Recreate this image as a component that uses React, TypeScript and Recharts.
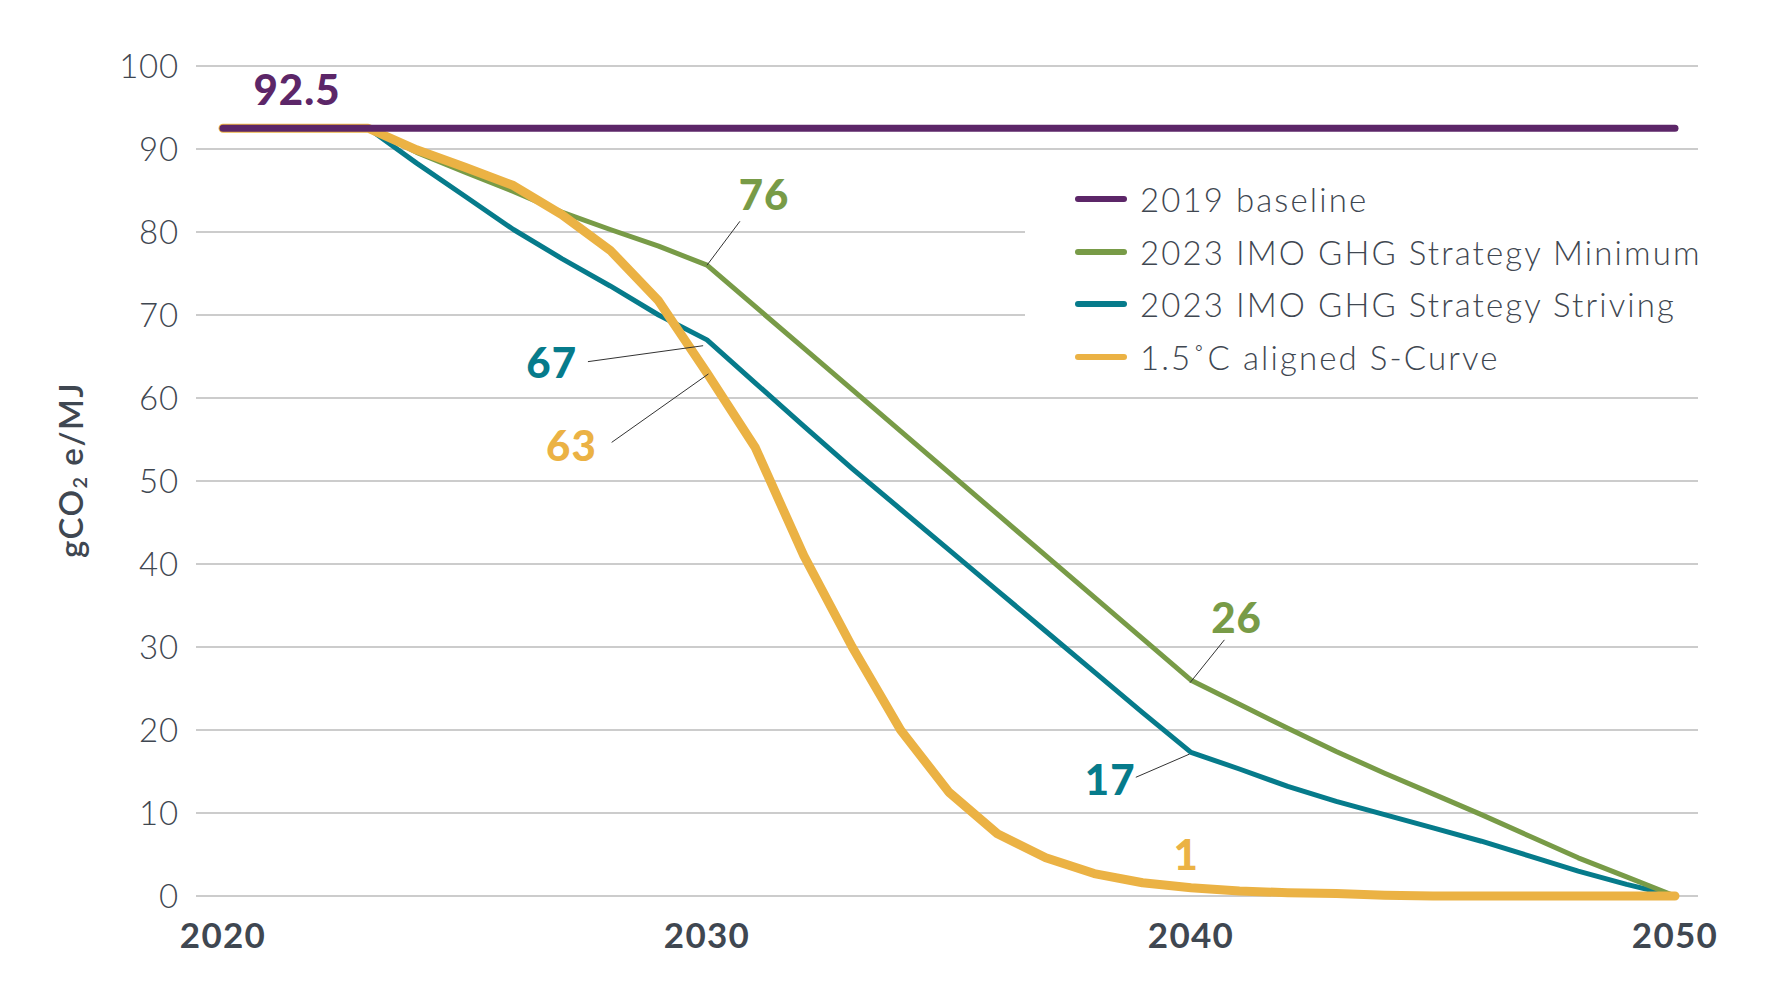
import { CartesianGrid, Legend, Line, LineChart, ReferenceDot, ReferenceLine, XAxis, YAxis } from "recharts";

const years = [
  2020, 2021, 2022, 2023, 2024, 2025, 2026, 2027, 2028, 2029, 2030, 2031, 2032, 2033, 2034, 2035,
  2036, 2037, 2038, 2039, 2040, 2041, 2042, 2043, 2044, 2045, 2046, 2047, 2048, 2049, 2050,
];
const baseline = [
  92.5, 92.5, 92.5, 92.5, 92.5, 92.5, 92.5, 92.5, 92.5, 92.5, 92.5, 92.5, 92.5, 92.5, 92.5, 92.5,
  92.5, 92.5, 92.5, 92.5, 92.5, 92.5, 92.5, 92.5, 92.5, 92.5, 92.5, 92.5, 92.5, 92.5, 92.5,
];
const imoMinimum = [
  92.5, 92.5, 92.5, 92.5, 89.6, 87.2, 84.9, 82.4, 80.3, 78.3, 76, 71, 66, 61, 56, 51,
  46, 41, 36, 31, 26, 23.1, 20.2, 17.4, 14.8, 12.3, 9.8, 7.2, 4.6, 2.3, 0,
];
const imoStriving = [
  92.5, 92.5, 92.5, 92.5, 88.3, 84.3, 80.3, 76.8, 73.5, 70, 67, 61.8, 56.6, 51.5, 46.6, 41.7,
  36.8, 31.9, 27, 22.1, 17.3, 15.3, 13.2, 11.4, 9.8, 8.2, 6.6, 4.8, 3, 1.4, 0,
];
const sCurve = [
  92.5, 92.5, 92.5, 92.5, 89.9, 87.8, 85.6, 82.1, 77.8, 71.7, 63, 54, 41, 30, 20, 12.5,
  7.5, 4.6, 2.7, 1.6, 1, 0.6, 0.4, 0.3, 0.1, 0, 0, 0, 0, 0, 0,
];
const xTicks = [2020, 2030, 2040, 2050];
const yTicks = [0, 10, 20, 30, 40, 50, 60, 70, 80, 90, 100];

const data = years.map((year, i) => ({
  year,
  baseline: baseline[i],
  minimum: imoMinimum[i],
  striving: imoStriving[i],
  sCurve: sCurve[i],
}));

const FONT = "Lato, sans-serif";
const TEXT = "#3f4751";

const series = [
  { key: "baseline", name: "2019 baseline", color: "#5c2668", width: 7 },
  { key: "minimum", name: "2023 IMO GHG Strategy Minimum", color: "#789b47", width: 5 },
  { key: "striving", name: "2023 IMO GHG Strategy Striving", color: "#067b8b", width: 5 },
  { key: "sCurve", name: "1.5˚C aligned S-Curve", color: "#ebb244", width: 9 },
];
const drawOrder = ["striving", "minimum", "sCurve", "baseline"];

const callouts = [
  { text: "92.5", x: 2021.53, y: 97.1, color: "#5c2668" },
  { text: "76", x: 2031.18, y: 84.5, color: "#789b47" },
  { text: "67", x: 2026.79, y: 64.2, color: "#067b8b" },
  { text: "63", x: 2027.2, y: 54.2, color: "#ebb244" },
  { text: "26", x: 2040.94, y: 33.5, color: "#789b47" },
  { text: "17", x: 2038.33, y: 14.0, color: "#067b8b" },
  { text: "1", x: 2039.9, y: 4.9, color: "#ebb244" },
];
const leaders = [
  [{ x: 2030.68, y: 81.29 }, { x: 2030, y: 76 }],
  [{ x: 2027.54, y: 64.38 }, { x: 2029.92, y: 66.3 }],
  [{ x: 2028.03, y: 54.65 }, { x: 2030.03, y: 62.9 }],
  [{ x: 2040.69, y: 30.86 }, { x: 2039.98, y: 25.7 }],
  [{ x: 2038.86, y: 14.3 }, { x: 2039.97, y: 17.1 }],
];

function LegendBox() {
  return (
    <div style={{ background: "#fff", width: 700, height: 210, fontFamily: FONT }}>
      {series.map((s) => (
        <div key={s.key} style={{ display: "flex", alignItems: "center", height: 52.5 }}>
          <div style={{ width: 52, height: 6, borderRadius: 3, background: s.color, marginLeft: 50, marginRight: 13 }} />
          <span style={{ fontSize: 33, fontWeight: 300, color: TEXT, letterSpacing: 2.1 }}>{s.name}</span>
        </div>
      ))}
    </div>
  );
}

function YLabel() {
  const cx = 70;
  const cy = 470;
  return (
    <text
      x={cx}
      y={cy}
      transform={`rotate(-90 ${cx} ${cy})`}
      textAnchor="middle"
      dominantBaseline="central"
      fill={TEXT}
      fontFamily={FONT}
      fontSize={33}
      fontWeight={600}
      letterSpacing={1.5}
    >
      gCO
      <tspan fontSize={20} dy={9}>2</tspan>
      <tspan dy={-9}> e/MJ</tspan>
    </text>
  );
}

export default function App() {
  return (
    <div style={{ width: 1775, height: 1005, background: "#fff" }}>
      <style>{"body{margin:0}"}</style>
      <LineChart width={1775} height={1005} data={data} margin={{ top: 66, right: 77, bottom: 0, left: 0 }}>
        <CartesianGrid horizontal vertical={false} stroke="#cccccc" strokeWidth={2} />
        <XAxis
          dataKey="year"
          type="number"
          domain={[2020, 2050]}
          ticks={xTicks}
          padding={{ left: 27, right: 23 }}
          axisLine={false}
          tickLine={false}
          tickMargin={21}
          height={109}
          tick={{ fill: TEXT, fontSize: 35, fontWeight: 700, fontFamily: FONT, letterSpacing: 1.3 }}
        />
        <YAxis
          domain={[0, 100]}
          ticks={yTicks}
          axisLine={false}
          tickLine={false}
          tickMargin={11}
          width={196}
          tick={{ fill: TEXT, fontSize: 33, fontWeight: 300, fontFamily: FONT, letterSpacing: 0.8 }}
          label={<YLabel />}
        />
        <Legend
          layout="vertical"
          align="center"
          verticalAlign="middle"
          content={<LegendBox />}
          wrapperStyle={{ top: 173, left: 1025, width: 700, height: 210 }}
        />
        {drawOrder.map((k) => {
          const s = series.find((v) => v.key === k)!;
          return (
            <Line
              key={s.key}
              dataKey={s.key}
              name={s.name}
              type="linear"
              stroke={s.color}
              strokeWidth={s.width}
              strokeLinecap="round"
              strokeLinejoin="round"
              dot={false}
              activeDot={false}
              isAnimationActive={false}
            />
          );
        })}
        {leaders.map((seg, i) => (
          <ReferenceLine key={i} segment={seg} stroke="#333" strokeWidth={1} ifOverflow="visible" />
        ))}
        {callouts.map((c) => (
          <ReferenceDot
            key={c.text}
            x={c.x}
            y={c.y}
            r={0}
            fill="none"
            stroke="none"
            ifOverflow="visible"
            label={{
              value: c.text,
              position: "center",
              fill: c.color,
              fontSize: 42,
              fontWeight: 900,
              fontFamily: FONT,
              letterSpacing: 1,
            }}
          />
        ))}
      </LineChart>
    </div>
  );
}
